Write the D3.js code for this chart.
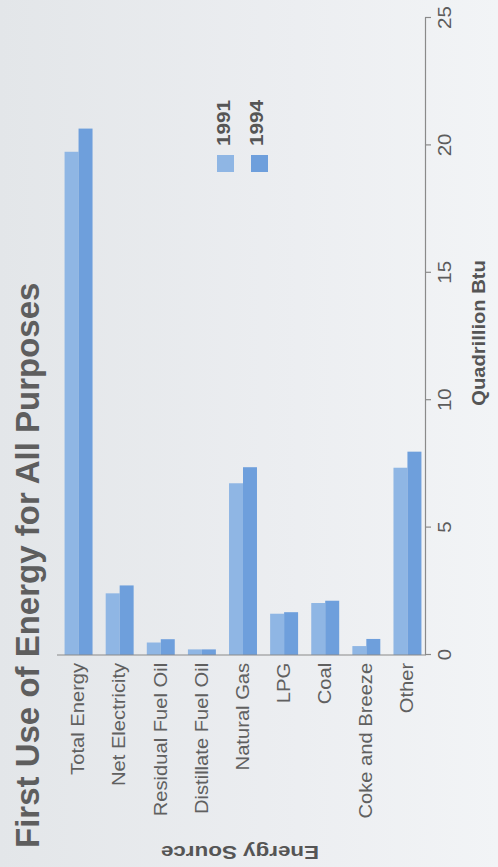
<!DOCTYPE html>
<html>
<head>
<meta charset="utf-8">
<script src="https://cdn.jsdelivr.net/npm/d3@7"></script>
<style>
  html, body { margin: 0; padding: 0; background: #eceef1; }
  svg { display: block; font-family: "Liberation Sans", Arial, sans-serif; }
</style>
</head>
<body>
<svg id="chart" width="498" height="867"></svg>
<script>
// Данные
const categories = ["Total Energy", "Net Electricity", "Residual Fuel Oil", "Distillate Fuel Oil",
                    "Natural Gas", "LPG", "Coal", "Coke and Breeze", "Other"];
const years = ["1991", "1994"];
const values1991 = [19.75, 2.42, 0.49, 0.22, 6.74, 1.62, 2.04, 0.35, 7.35];
const values1994 = [20.66, 2.73, 0.62, 0.22, 7.37, 1.68, 2.13, 0.63, 7.98];
const valueTicks = [0, 5, 10, 15, 20, 25];

const colors = ["#8fb6e4", "#6e9fdc"];

// Весь график нарисован горизонтально и повернут на -90 градусов
const W = 867, H = 498;

const svg = d3.select("#chart");

// фон с лёгким градиентом как на скане
const defs = svg.append("defs");
const grad = defs.append("linearGradient").attr("id", "bg").attr("x1", 0).attr("x2", 1).attr("y1", 0).attr("y2", 0);
grad.append("stop").attr("offset", "0%").attr("stop-color", "#e3e6e9");
grad.append("stop").attr("offset", "60%").attr("stop-color", "#eceef1");
grad.append("stop").attr("offset", "100%").attr("stop-color", "#f2f4f6");
svg.append("rect").attr("width", 498).attr("height", 867).attr("fill", "url(#bg)");

const g = svg.append("g")
    .attr("transform", "translate(0," + W + ") rotate(-90)");

// Шкалы
const x = d3.scaleLinear()
    .domain([0, 25])
    .range([212, 849]);

const y = d3.scaleBand()
    .domain(categories)
    .range([58, 428])
    .paddingInner(0.32)
    .paddingOuter(0.16);

const ySub = d3.scaleBand()
    .domain(years)
    .range([0, y.bandwidth()]);

const series = [values1991, values1994];

// Столбцы
years.forEach(function(yr, k) {
    g.append("g")
        .selectAll("rect")
        .data(series[k])
        .enter()
        .append("rect")
        .attr("x", x(0))
        .attr("y", (d, i) => y(categories[i]) + ySub(yr))
        .attr("width", d => x(d) - x(0))
        .attr("height", ySub.bandwidth())
        .attr("fill", colors[k]);
});

// Ось значений
const xAxis = g.append("g")
    .attr("transform", "translate(0,425)")
    .call(d3.axisBottom(x).tickValues(valueTicks).tickSize(6).tickSizeOuter(0).tickPadding(7));
xAxis.select(".domain").attr("stroke", "#8a8a8a").attr("stroke-width", 1.2);
xAxis.selectAll(".tick line").attr("stroke", "#8a8a8a").attr("stroke-width", 1.2);
xAxis.selectAll(".tick text")
    .attr("fill", "#5c5c5c")
    .attr("font-size", "19px")
    .attr("transform", "scale(1.08,1)");

// Ось категорий
const yAxis = g.append("g")
    .attr("transform", "translate(" + x(0) + ",0)")
    .call(d3.axisLeft(y).tickSize(0).tickPadding(7));
yAxis.select(".domain").attr("stroke", "#8a8a8a").attr("stroke-width", 1.2)
    .attr("d", "M0,57V426");
yAxis.selectAll(".tick text")
    .attr("fill", "#606060")
    .attr("font-size", "18px")
    .attr("transform", "scale(1.12,1)");

// Заголовок
g.append("text")
    .attr("x", 19)
    .attr("y", 39)
    .attr("font-size", "33px")
    .attr("font-weight", "bold")
    .attr("fill", "#5e5e5e")
    .text("First Use of Energy for All Purposes");

// Подпись оси категорий (перевернута)
g.append("text")
    .attr("transform", "translate(21,240) rotate(-90) scale(1.18,1)")
    .attr("text-anchor", "middle")
    .attr("font-size", "19px")
    .attr("font-weight", "bold")
    .attr("fill", "#555")
    .text("Energy Source");

// Подпись оси значений
g.append("text")
    .attr("transform", "translate(534,485) scale(1.12,1)")
    .attr("text-anchor", "middle")
    .attr("font-size", "18px")
    .attr("font-weight", "bold")
    .attr("fill", "#555")
    .text("Quadrillion Btu");

// Легенда
years.forEach(function(yr, k) {
    g.append("rect")
        .attr("x", 695)
        .attr("y", 217 + k * 34)
        .attr("width", 17)
        .attr("height", 17)
        .attr("fill", colors[k]);
    g.append("text")
        .attr("transform", "translate(721," + (230 + k * 33) + ") scale(1.15,1)")
        .attr("font-size", "18px")
        .attr("font-weight", "bold")
        .attr("fill", "#555")
        .text(yr);
});
</script>
</body>
</html>
